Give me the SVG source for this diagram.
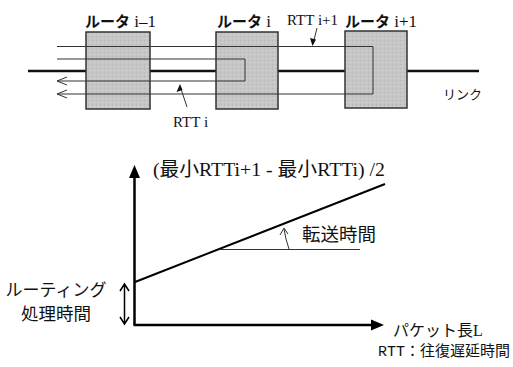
<svg xmlns="http://www.w3.org/2000/svg" width="513" height="367" viewBox="0 0 513 367">
<style>
.box{fill:#c8c8c8;stroke:#333;stroke-width:1.5}
.thin{fill:none;stroke:#333;stroke-width:1}
.link{fill:none;stroke:#111;stroke-width:2.5}
.axis{fill:none;stroke:#000;stroke-width:2.5}
.cj{font-family:"Noto Sans CJK JP","Noto Sans",sans-serif}
.sf{font-family:"Liberation Serif","Noto Sans CJK JP",serif}
text{fill:#111}
</style>
<defs>
<pattern id="tex" width="4" height="4" patternUnits="userSpaceOnUse">
<rect width="4" height="4" fill="#c6c6c6"/>
<rect x="0" y="0" width="1" height="1" fill="#b4b4b4"/>
<rect x="2" y="2" width="1" height="1" fill="#d6d6d6"/>
</pattern>
</defs>

<g id="link-line">
<path class="link" d="M28,71 H479"/>
</g>

<g id="router-i-1">
<rect class="box" x="86" y="32" width="64" height="77" style="fill:url(#tex)"/>
<text x="85" y="27" font-size="15"><tspan class="cj" font-weight="bold">ルータ</tspan><tspan class="sf" font-size="17"> i–1</tspan></text>
</g>
<g id="router-i">
<rect class="box" x="216" y="32" width="62" height="77" style="fill:url(#tex)"/>
<text x="217" y="27" font-size="15"><tspan class="cj" font-weight="bold">ルータ</tspan><tspan class="sf" font-size="17"> i</tspan></text>
</g>
<g id="router-i1">
<rect class="box" x="345" y="31" width="62" height="77" style="fill:url(#tex)"/>
<text x="345" y="27" font-size="15"><tspan class="cj" font-weight="bold">ルータ</tspan><tspan class="sf" font-size="17"> i+1</tspan></text>
</g>

<g id="connectors">
<path class="thin" d="M57,46.5 H373 V94 H57"/>
<path class="thin" d="M57,59 H245 V81 H57"/>
<path class="thin" d="M67,77 L57,81 L67,85"/>
<path class="thin" d="M67,90 L57,94 L67,98"/>
<path class="thin" d="M187,107 L180,86"/>
<path d="M180,84 L176.5,92 L182.5,90 Z" fill="#111"/>
<path class="thin" d="M317,28 L313,44"/>
<path d="M312.5,46 L310,38 L316,39.5 Z" fill="#111"/>
</g>

<g id="labels-top">
<text class="sf" x="287" y="25" font-size="15">RTT i+1</text>
<text class="sf" x="173" y="127" font-size="15">RTT i</text>
<text class="cj" x="443" y="99" font-size="13">リンク</text>
</g>

<g id="chart">
<path class="axis" d="M134.5,325 V176"/>
<path d="M134.5,165 L129,178 L140,178 Z" fill="#000"/>
<path class="axis" d="M133.5,325 H372"/>
<path d="M384,325 L371,319.5 L371,330.5 Z" fill="#000"/>
<path fill="none" stroke="#000" stroke-width="2" d="M135,282 L385,184"/>
<path class="thin" d="M220,249.5 H360"/>
<path class="thin" d="M289,249 Q285.5,239 284,229"/>
<path class="thin" d="M280,235 L284,228 L288,234"/>
<path fill="none" stroke="#000" stroke-width="1.5" d="M124.5,284 V324 M120,291 L124.5,284 L129,291 M120,317 L124.5,324 L129,317"/>
</g>

<g id="labels-chart">
<text x="153" y="176" font-size="19" textLength="232" lengthAdjust="spacingAndGlyphs"><tspan class="sf">(</tspan><tspan class="cj">最小</tspan><tspan class="sf">RTTi+1 - </tspan><tspan class="cj">最小</tspan><tspan class="sf">RTTi) /2</tspan></text>
<text class="cj" x="302" y="240.5" font-size="18.5">転送時間</text>
<text class="cj" x="56" y="296" font-size="17" text-anchor="middle">ルーティング</text>
<text class="cj" x="56" y="320" font-size="17.5" text-anchor="middle">処理時間</text>
<text x="393" y="336" font-size="16"><tspan class="cj">パケット長</tspan><tspan class="sf">L</tspan></text>
<text x="378" y="356" font-size="15" textLength="132" lengthAdjust="spacingAndGlyphs"><tspan font-family="Liberation Mono, monospace">RTT</tspan><tspan class="cj">：往復遅延時間</tspan></text>
</g>
</svg>
